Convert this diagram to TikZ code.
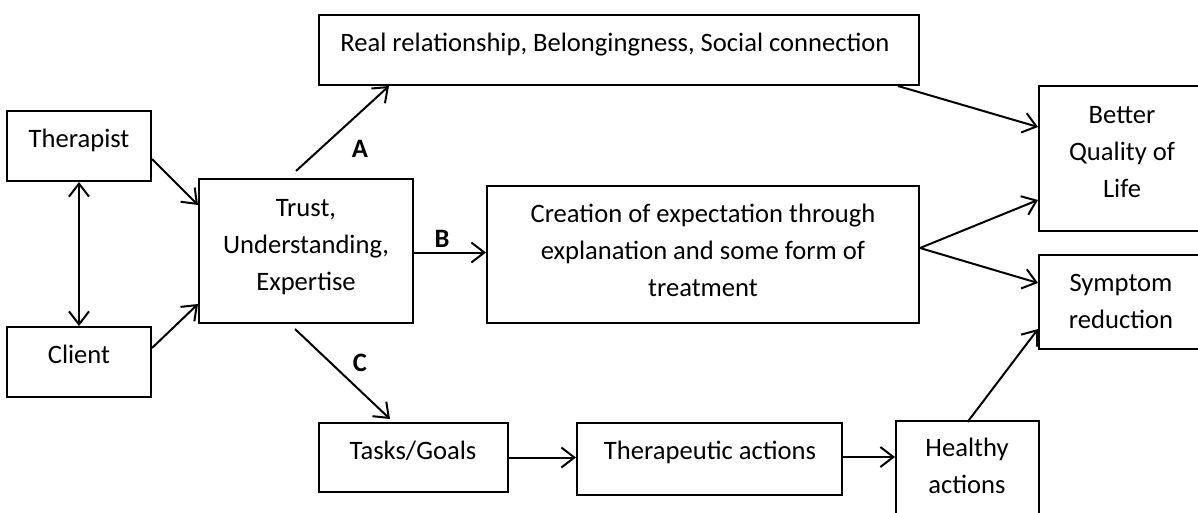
\documentclass[tikz,border=0pt]{standalone}
\usepackage{fontspec}
\setmainfont{Carlito}
\usetikzlibrary{arrows.meta}
\begin{document}
\begin{tikzpicture}[x=1pt,y=-1pt,
  box/.style={draw, line width=2pt, rectangle, inner sep=0pt},
  txt/.style={font=\fontsize{26.6}{37}\selectfont, align=center, inner sep=0pt, anchor=base},
  lbl/.style={font=\fontsize{26.6}{37}\selectfont\bfseries, inner sep=0pt, anchor=base},
  arr/.style={line width=2pt, -{Straight Barb[length=13pt,width=20pt]}},
  darr/.style={line width=2pt, {Straight Barb[length=13pt,width=20pt]}-{Straight Barb[length=13pt,width=20pt]}},
]
\useasboundingbox (0,0) rectangle (1198,512);
\clip (0,0) rectangle (1198,512);

% boxes
\node[box, minimum width=144pt, minimum height=70pt] (ther) at (79,146) {};
\node[box, minimum width=144pt, minimum height=70pt] (client) at (79,362) {};
\node[box, minimum width=214pt, minimum height=144pt] (trust) at (306,251) {};
\node[box, minimum width=600pt, minimum height=70pt] (rr) at (619,50) {};
\node[box, minimum width=432pt, minimum height=137pt] (creation) at (703,254.5) {};
\node[box, minimum width=189pt, minimum height=69pt] (tasks) at (413.5,457.5) {};
\node[box, minimum width=265pt, minimum height=72pt] (thact) at (709.5,459) {};
\node[box, minimum width=143pt, minimum height=109pt] (healthy) at (967.5,475.5) {};
\node[box, minimum width=166pt, minimum height=145pt] (better) at (1122,158.5) {};
\node[box, minimum width=166pt, minimum height=94pt] (symptom) at (1122,302) {};

% texts (anchored at the baseline of their last line)
\node[txt] (therT) at (79,147) {Therapist};
\node[txt] (clientT) at (79,363) {Client};
\node[txt] (trustT) at (306,290) {Trust,\\Understanding,\\Expertise};
\node[txt] (rrT) at (615,51) {Real relationship, Belongingness, Social connection};
\node[txt] (creationT) at (703,296) {Creation of expectation through\\explanation and some form of\\treatment};
\node[txt] (tasksT) at (413,459) {Tasks/Goals};
\node[txt] (thactT) at (710,459) {Therapeutic actions};
\node[txt] (healthyT) at (967,493) {Healthy\\actions};
\node[txt] (betterT) at (1122,197) {Better\\Quality of\\Life};
\node[txt] (symptomT) at (1121,328) {Symptom\\reduction};

% path labels
\node[lbl] (labA) at (360,157) {A};
\node[lbl] (labB) at (442,247) {B};
\node[lbl] (labC) at (360,371) {C};

% connectors
\draw[arr] ([yshift=-13pt]ther.east) -- ([yshift=46pt]trust.west);
\draw[arr] ([yshift=14pt]client.east) -- ([yshift=-53pt]trust.west);
\draw[darr] (ther.south) -- (client.north);
\draw[arr] ([xshift=-10pt,yshift=7pt]trust.north) -- ([xshift=71pt]rr.south west);
\draw[arr] ([yshift=-1.5pt]trust.east) -- ([yshift=-1.5pt]trust.east -| creation.west);
\draw[arr] ([xshift=-11pt,yshift=-5pt]trust.south) -- ([xshift=72pt,yshift=3pt]tasks.north west);
\draw[arr] ([xshift=-22pt]rr.south east) -- ([yshift=31.5pt]better.west);
\draw[arr] ([yshift=6.5pt]creation.east) -- ([yshift=-41.5pt]better.west);
\draw[arr] ([yshift=6.5pt]creation.east) -- ([yshift=19pt]symptom.west);
\draw[arr] (tasks.east) -- (tasks.east -| thact.west);
\draw[arr] ([yshift=2pt]thact.east) -- ([yshift=2pt]thact.east -| healthy.west);
\draw[arr] ([yshift=-2pt]healthy.north) -- ([yshift=-27pt]symptom.west);
\end{tikzpicture}
\end{document}
